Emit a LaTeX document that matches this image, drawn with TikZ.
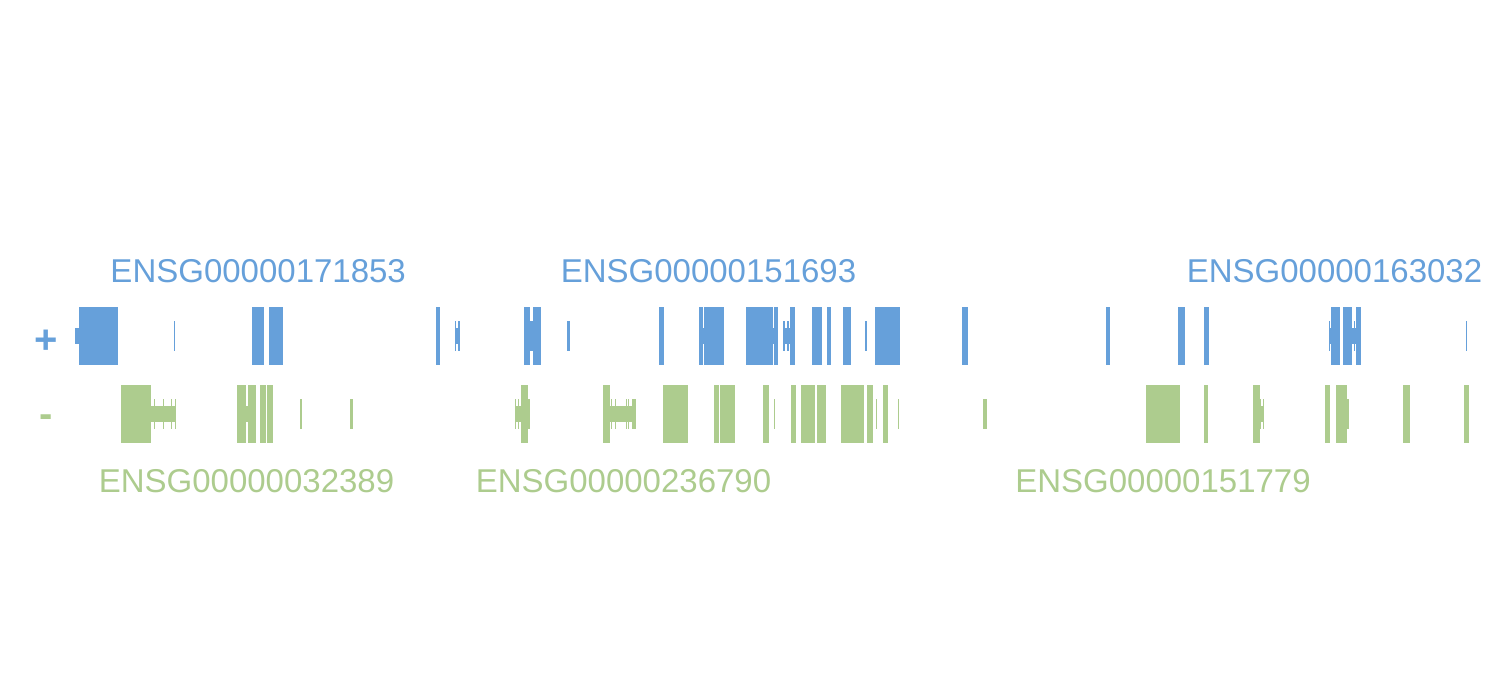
\documentclass[tikz,border=0pt]{standalone}
\usepackage{fontspec}
\setmainfont{Liberation Sans}
\definecolor{plusblue}{RGB}{102,160,218}
\definecolor{minusgreen}{RGB}{173,204,142}
\newcommand\gPF[2]{\fill[plusblue] (#1,307) rectangle (#2,365);}
\newcommand\gPM[2]{\fill[plusblue] (#1,321) rectangle (#2,351);}
\newcommand\gPT[2]{\fill[plusblue] (#1,328) rectangle (#2,344);}
\newcommand\gNF[2]{\fill[minusgreen] (#1,385) rectangle (#2,443);}
\newcommand\gNM[2]{\fill[minusgreen] (#1,399) rectangle (#2,429);}
\newcommand\gNT[2]{\fill[minusgreen] (#1,406) rectangle (#2,422);}
\tikzset{
  genelabel/.style={inner sep=0pt, anchor=base, font=\fontsize{33}{40}\selectfont},
  strandsign/.style={inner sep=0pt, anchor=base, font=\fontsize{40}{48}\selectfont\bfseries},
}
\begin{document}
\begin{tikzpicture}[x=1pt,y=-1pt]
\useasboundingbox (0,0) rectangle (1500,675);
% strand signs
\node[strandsign, text=plusblue] (plus) at (46,353) {+};
\node[strandsign, text=minusgreen] (minus) at (46,427.5) {-};
% labels
\node[genelabel, text=plusblue] (l1) at (258.2,282) {ENSG00000171853};
\node[genelabel, text=plusblue] (l2) at (708.5,282) {ENSG00000151693};
\node[genelabel, text=plusblue] (l3) at (1334.5,282) {ENSG00000163032};
\node[genelabel, text=minusgreen] (l4) at (246.5,492) {ENSG00000032389};
\node[genelabel, text=minusgreen] (l5) at (623.5,492) {ENSG00000236790};
\node[genelabel, text=minusgreen] (l6) at (1163,492) {ENSG00000151779};
% plus strand
\gPT{75}{79}\gPF{79}{118}
\gPM{173.5}{175}
\gPF{252}{264}\gPF{269}{283.3}
\gPF{435.5}{439.5}
\gPM{455}{456}\gPT{456}{458}\gPM{458}{460}
\gPF{524}{530}\gPM{530}{533}\gPF{533}{541}
\gPM{567}{570}
\gPF{659}{664}
\gPF{699}{703}\gPT{703}{704}\gPF{704}{724}
\gPF{746}{766.5}\gPF{767}{773}\gPT{773}{774}\gPF{774}{778}
\gPM{783}{785}\gPT{785}{787}\gPM{787}{789}\gPT{789}{790}\gPF{790}{795}
\gPF{812}{822}\gPF{827}{831}\gPF{843}{851}
\gPM{865}{866.5}
\gPF{875}{900}
\gPF{962}{968}
\gPF{1106}{1110}
\gPF{1178}{1185}
\gPF{1204}{1209}
\gPM{1329}{1330}\gPT{1330}{1331}\gPF{1331}{1340}\gPF{1343}{1352}\gPT{1352}{1354}\gPM{1354}{1355}\gPT{1355}{1356}\gPF{1356}{1361}
\gPM{1466}{1467}
% minus strand
\gNF{121}{151}\gNT{151}{176}
\gNM{154}{155}\gNM{163}{164}\gNM{171}{172}\gNM{175}{176}
\gNF{237}{246.3}\gNT{246.3}{248.3}\gNF{248.3}{256}\gNF{260}{266}\gNF{266.7}{273}
\gNM{300}{302}\gNM{350.3}{353}
\gNM{515}{516}\gNT{515}{521}\gNM{518}{519}\gNF{521}{528}\gNM{528}{530}
\gNF{603}{610}\gNT{610}{632}
\gNM{611}{612}\gNM{615}{616}\gNM{626}{627}\gNM{628}{629}\gNM{632}{636}
\gNF{663}{688}
\gNF{714}{719}\gNF{720}{735}
\gNF{763}{768.5}\gNM{774}{775}
\gNF{791}{796}
\gNF{801}{815}\gNF{817}{826}
\gNF{841}{864}\gNF{867}{873}
\gNM{876}{877}
\gNF{883}{888}
\gNM{898}{899}
\gNM{983}{987}
\gNF{1146}{1180}
\gNF{1204}{1208}
\gNF{1253}{1260}\gNM{1260}{1261}\gNT{1261}{1263}\gNM{1263}{1264}
\gNF{1325}{1330}
\gNF{1336}{1347}\gNM{1347}{1349}
\gNF{1403}{1410}
\gNF{1464}{1469}
\end{tikzpicture}
\end{document}
